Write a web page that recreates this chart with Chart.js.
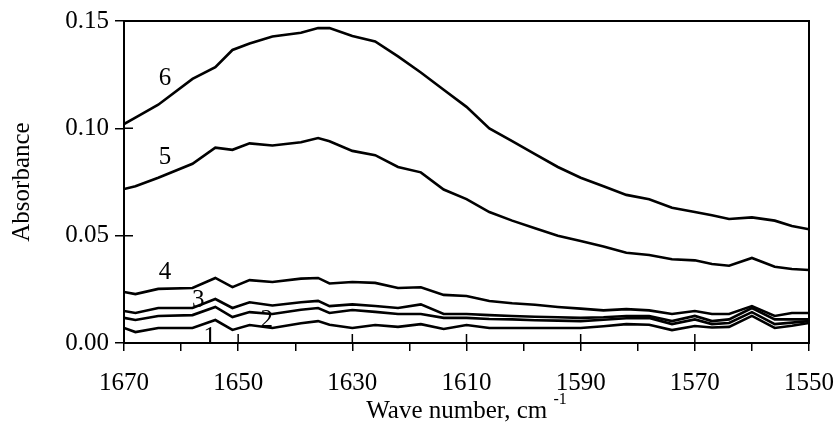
<!DOCTYPE html>
<html>
<head>
<meta charset="utf-8">
<script src="https://cdn.jsdelivr.net/npm/chart.js@4.4.0/dist/chart.umd.min.js"></script>
<style>
    body { margin: 0; background: #fff; }
    #myChart { display: block; }
</style>
</head>
<body>
<canvas id="myChart" width="839" height="440"></canvas>
<script>
// wave numbers, cm-1 (axis runs from 1670 down to 1550)
const wavenumbers = [1670, 1668, 1664, 1658, 1654, 1651, 1648, 1644, 1639, 1636, 1634, 1630, 1626, 1622, 1618, 1614, 1610,
    1606, 1602, 1598, 1594, 1590, 1586, 1582, 1578, 1574, 1570, 1567, 1564, 1560, 1556, 1553, 1550];

const curve1 = [0.0070, 0.0051, 0.0070, 0.0070, 0.0107, 0.0061, 0.0084, 0.0070, 0.0092, 0.0102, 0.0085, 0.0070, 0.0084, 0.0075, 0.0088, 0.0065, 0.0084,
    0.0070, 0.0070, 0.0070, 0.0070, 0.0070, 0.0078, 0.0088, 0.0085, 0.0060, 0.0079, 0.0072, 0.0075, 0.0126, 0.0070, 0.0080, 0.0093];
const curve2 = [0.0117, 0.0107, 0.0126, 0.0130, 0.0168, 0.0121, 0.0144, 0.0135, 0.0155, 0.0163, 0.0140, 0.0154, 0.0145, 0.0135, 0.0135, 0.0117, 0.0117,
    0.0112, 0.0110, 0.0106, 0.0104, 0.0102, 0.0108, 0.0115, 0.0117, 0.0088, 0.0110, 0.0088, 0.0093, 0.0144, 0.0088, 0.0095, 0.0102];
const curve3 = [0.0149, 0.0140, 0.0163, 0.0163, 0.0205, 0.0163, 0.0190, 0.0175, 0.0190, 0.0196, 0.0172, 0.0180, 0.0172, 0.0163, 0.0180, 0.0135, 0.0135,
    0.0130, 0.0126, 0.0122, 0.0120, 0.0117, 0.0120, 0.0126, 0.0126, 0.0102, 0.0126, 0.0102, 0.0110, 0.0163, 0.0110, 0.0110, 0.0110];
const curve4 = [0.0238, 0.0228, 0.0252, 0.0256, 0.0303, 0.0260, 0.0293, 0.0284, 0.0300, 0.0303, 0.0277, 0.0284, 0.0280, 0.0256, 0.0260, 0.0224, 0.0219,
    0.0196, 0.0185, 0.0178, 0.0168, 0.0160, 0.0152, 0.0158, 0.0152, 0.0135, 0.0149, 0.0135, 0.0135, 0.0172, 0.0126, 0.0140, 0.0140];
const curve5 = [0.0717, 0.0730, 0.0770, 0.0835, 0.0910, 0.0900, 0.0930, 0.0920, 0.0935, 0.0955, 0.0940, 0.0895, 0.0875, 0.0820, 0.0795, 0.0715, 0.0670,
    0.0610, 0.0570, 0.0535, 0.0500, 0.0475, 0.0450, 0.0420, 0.0410, 0.0390, 0.0385, 0.0368, 0.0360, 0.0396, 0.0355, 0.0345, 0.0340];
const curve6 = [0.1020, 0.1050, 0.1110, 0.1230, 0.1285, 0.1365, 0.1395, 0.1428, 0.1445, 0.1467, 0.1467, 0.1430, 0.1405, 0.1335, 0.1260, 0.1180, 0.1100,
    0.1000, 0.0940, 0.0880, 0.0820, 0.0770, 0.0730, 0.0690, 0.0670, 0.0630, 0.0610, 0.0595, 0.0578, 0.0585, 0.0570, 0.0545, 0.0530];

const curves = [curve1, curve2, curve3, curve4, curve5, curve6];
const curveNames = ["1", "2", "3", "4", "5", "6"];
// where each curve number sits, in data units [wave number, absorbance]
const curveLabelAt = [[1655, 0.0028], [1645, 0.0107], [1657, 0.0200], [1662.8, 0.0331], [1662.8, 0.0866], [1662.8, 0.1234]];

const xTitle = "Wave number, cm";
const xTitleSup = "-1";
const yTitle = "Absorbance";

const serif = "'Liberation Serif', 'Times New Roman', serif";

const extras = {
    id: "extras",
    afterDraw(chart) {
        const ctx = chart.ctx;
        const area = chart.chartArea;
        const xs = chart.scales.x;
        const ys = chart.scales.y;

        ctx.save();
        ctx.strokeStyle = "#000";
        ctx.lineWidth = 2;
        ctx.strokeRect(area.left, area.top, area.right - area.left, area.bottom - area.top);

        // inner half of the major ticks
        ctx.lineWidth = 1.5;
        ctx.beginPath();
        xs.ticks.forEach(t => {
            if (t.value % 20 === 10) {
                const px = xs.getPixelForValue(t.value);
                ctx.moveTo(px, area.bottom);
                ctx.lineTo(px, area.bottom - 9);
            }
        });
        ys.ticks.forEach(t => {
            const py = ys.getPixelForValue(t.value);
            ctx.moveTo(area.left, py);
            ctx.lineTo(area.left + 9, py);
        });
        ctx.stroke();

        // curve numbers
        ctx.fillStyle = "#000";
        ctx.font = "25px " + serif;
        ctx.textAlign = "center";
        ctx.textBaseline = "middle";
        curveNames.forEach((name, i) => {
            ctx.fillText(name, xs.getPixelForValue(curveLabelAt[i][0]), ys.getPixelForValue(curveLabelAt[i][1]));
        });

        // x axis title with superscript
        ctx.font = "25px " + serif;
        const mainW = ctx.measureText(xTitle + " ").width;
        ctx.font = "16px " + serif;
        const supW = ctx.measureText(xTitleSup).width;
        const startX = (area.left + area.right) / 2 - (mainW + supW) / 2;
        ctx.textAlign = "left";
        ctx.textBaseline = "alphabetic";
        ctx.font = "25px " + serif;
        ctx.fillText(xTitle, startX, 418);
        ctx.font = "16px " + serif;
        ctx.fillText(xTitleSup, startX + mainW, 404);
        ctx.restore();
    }
};

new Chart("myChart", {
    type: "line",
    data: {
        datasets: curves.map((c, i) => ({
            label: curveNames[i],
            data: wavenumbers.map((w, j) => ({x: w, y: c[j]})),
            borderColor: "#000",
            borderWidth: 2.6,
            pointRadius: 0,
            tension: 0,
            fill: false
        }))
    },
    options: {
        responsive: false,
        animation: false,
        layout: {
            padding: {top: 21, right: 30, bottom: 0, left: 0}
        },
        plugins: {
            legend: {display: false},
            tooltip: {enabled: false}
        },
        scales: {
            x: {
                type: "linear",
                reverse: true,
                min: 1550,
                max: 1670,
                afterFit: scale => {
                    scale.height = 97;
                    scale.paddingLeft = 0;
                    scale.paddingRight = 0;
                },
                ticks: {
                    stepSize: 10,
                    autoSkip: false,
                    maxRotation: 0,
                    color: "#000",
                    padding: 17,
                    font: {family: serif, size: 25},
                    callback: v => (v % 20 === 10 ? String(v) : "")
                },
                grid: {
                    drawOnChartArea: false,
                    color: "#000",
                    lineWidth: 1.5,
                    tickLength: 8
                },
                border: {color: "#000", width: 2}
            },
            y: {
                min: 0,
                max: 0.15,
                afterFit: scale => {
                    scale.width = 124;
                    scale.paddingTop = 0;
                    scale.paddingBottom = 0;
                },
                ticks: {
                    stepSize: 0.05,
                    color: "#000",
                    padding: 6,
                    font: {family: serif, size: 25},
                    callback: v => v.toFixed(2)
                },
                grid: {
                    drawOnChartArea: false,
                    color: "#000",
                    lineWidth: 1.5,
                    tickLength: 9
                },
                border: {color: "#000", width: 2},
                title: {
                    display: true,
                    text: yTitle,
                    color: "#000",
                    padding: {top: 7, bottom: 0},
                    font: {family: serif, size: 25}
                }
            }
        }
    },
    plugins: [extras]
});
</script>
</body>
</html>
